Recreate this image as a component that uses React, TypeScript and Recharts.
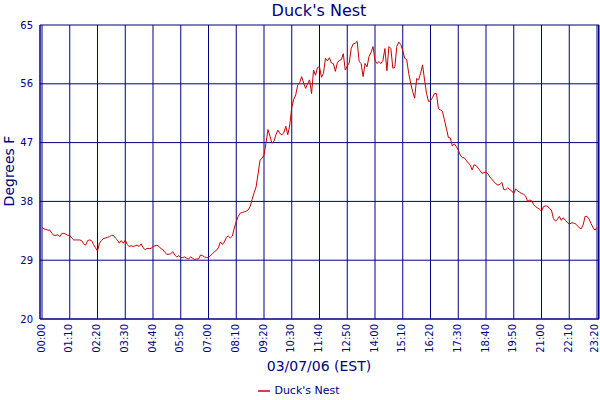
import { LineChart, Line, XAxis, YAxis, CartesianGrid, Legend } from 'recharts';

const NAVY = '#000080';
const RED = '#cc0000';

// x-axis tick labels (every 70 minutes)
const tickLabels = [
  '00:00', '01:10', '02:20', '03:30', '04:40', '05:50', '07:00', '08:10', '09:20', '10:30', '11:40',
  '12:50', '14:00', '15:10', '16:20', '17:30', '18:40', '19:50', '21:00', '22:10', '23:20',
];
const yTicks = [20, 29, 38, 47, 56, 65];

// readings every 5 minutes starting at 00:00
const stepMinutes = 5;
const temps = [
  34.0, 33.8, 33.7, 33.6, 33.6, 33.1, 32.8, 32.8, 32.9, 32.6,
  33.1, 33.1, 33.0, 32.8, 32.8, 32.4, 32.1, 32.1, 32.1, 32.1,
  32.0, 31.5, 31.3, 32.0, 32.1, 32.0, 31.4, 30.9, 30.4, 31.6,
  32.0, 32.3, 32.4, 32.5, 32.6, 32.8, 32.8, 32.4, 32.1, 31.6,
  32.0, 31.6, 32.1, 31.4, 31.1, 31.2, 31.1, 31.2, 31.3, 31.1,
  31.5, 30.9, 30.6, 30.8, 30.8, 30.8, 31.1, 31.2, 31.3, 31.1,
  30.8, 30.6, 30.2, 29.9, 29.9, 30.0, 30.3, 29.8, 29.5, 29.7,
  29.4, 29.4, 29.5, 29.3, 29.2, 29.5, 29.3, 29.1, 29.2, 29.2,
  29.8, 29.7, 29.5, 29.4, 29.4, 29.7, 30.0, 30.3, 30.5, 30.9,
  31.8, 31.4, 31.8, 32.5, 32.7, 32.4, 32.7, 33.9, 34.9, 35.7,
  36.2, 36.3, 36.4, 36.5, 36.7, 37.2, 38.3, 39.3, 40.2, 42.2,
  44.3, 44.6, 45.1, 46.9, 49.0, 48.0, 46.9, 47.2, 48.2, 48.9,
  48.4, 48.2, 48.5, 49.5, 48.2, 49.7, 52.4, 53.6, 54.3, 55.8,
  56.2, 57.1, 56.1, 55.3, 56.0, 56.6, 54.5, 58.1, 57.3, 58.5,
  58.6, 57.0, 57.6, 59.9, 59.5, 60.0, 59.2, 59.1, 57.9, 59.2,
  59.6, 59.7, 60.6, 58.1, 58.7, 59.2, 61.4, 62.1, 62.2, 62.5,
  59.4, 59.1, 57.1, 59.1, 58.6, 60.2, 60.8, 61.7, 59.6, 59.1,
  59.4, 59.1, 59.6, 61.4, 58.0, 61.7, 61.4, 58.4, 58.5, 61.7,
  62.4, 62.0, 61.1, 59.9, 59.7, 57.6, 56.1, 54.8, 53.8, 56.8,
  56.6, 57.6, 58.9, 56.6, 54.5, 53.3, 53.4, 53.9, 54.5, 54.5,
  52.2, 52.0, 51.8, 50.5, 49.2, 47.8, 47.7, 46.5, 46.8, 46.4,
  45.9, 45.1, 44.7, 44.7, 44.3, 43.9, 43.6, 42.8, 43.6, 43.5,
  43.1, 42.7, 42.3, 42.4, 42.5, 42.2, 41.7, 41.4, 41.0, 40.7,
  40.5, 40.6, 40.9, 39.8, 39.8, 40.1, 39.8, 39.6, 39.2, 39.9,
  39.6, 39.4, 39.2, 39.1, 38.8, 38.0, 38.2, 38.1, 37.5, 37.2,
  37.0, 36.8, 36.5, 37.2, 37.3, 37.3, 36.9, 36.7, 35.4, 35.0,
  35.2, 35.7, 35.1, 35.5, 35.1, 34.8, 34.5, 34.7, 34.7, 34.6,
  34.3, 34.0, 33.8, 34.4, 35.7, 35.7, 35.3, 34.6, 34.0, 33.6,
  34.0,
];

const toMinutes = (s: string) => {
  const [h, m] = s.split(':').map(Number);
  return h * 60 + m;
};
const pad = (n: number) => String(n).padStart(2, '0');
const fmtTime = (m: number) => `${pad(Math.floor(m / 60))}:${pad(m % 60)}`;

const xTicks = tickLabels.map(toMinutes);
const data = temps.map((t, i) => ({ minute: i * stepMinutes, temp: t }));

// rotated time label; the last one is nudged in so it stays inside the picture
const TimeTick = (props: any) => {
  const { x, y, payload, index } = props;
  const tx = x - 1 - (index === xTicks.length - 1 ? 2 : 0);
  return (
    <text
      x={tx}
      y={y}
      dy="0.36em"
      transform={`rotate(-90 ${tx} ${y})`}
      textAnchor="end"
      fontSize={10}
      fill={NAVY}
    >
      {fmtTime(payload.value)}
    </text>
  );
};

export default function App() {
  return (
    <div style={{ position: 'absolute', left: 0, top: 0, width: 600, height: 400, fontFamily: 'DejaVu Sans', background: '#fff' }}>
      <LineChart width={600} height={400} data={data} margin={{ top: 25, right: 1, left: 0, bottom: 31 }}>
        <CartesianGrid stroke={NAVY} strokeOpacity={1} />
        <XAxis
          dataKey="minute"
          type="number"
          domain={[xTicks[0], xTicks[xTicks.length - 1]]}
          ticks={xTicks}
          interval={0}
          padding={{ left: 2, right: 2 }}
          height={50}
          axisLine={{ stroke: NAVY }}
          tickLine={false}
          tickSize={0}
          tickMargin={5}
          tick={<TimeTick />}
        />
        <YAxis
          domain={[20, 65]}
          ticks={yTicks}
          interval={0}
          width={40}
          axisLine={{ stroke: NAVY }}
          tickLine={false}
          tickSize={0}
          tickMargin={7}
          tick={{ fontSize: 10, fill: NAVY }}
        />
        <Legend
          verticalAlign="middle"
          align="center"
          iconType="plainline"
          iconSize={12}
          formatter={(v) => <span style={{ color: NAVY }}>{v}</span>}
          wrapperStyle={{ top: 384, left: 4, width: 600, fontSize: 11 }}
        />
        <Line
          type="linear"
          dataKey="temp"
          name="Duck's Nest"
          stroke={RED}
          strokeWidth={1}
          dot={false}
          isAnimationActive={false}
        />
      </LineChart>
      <svg width={600} height={400} style={{ position: 'absolute', left: 0, top: 0, pointerEvents: 'none' }}>
        <line x1={598.5} y1={25} x2={598.5} y2={319} stroke={NAVY} />
        <text x={319} y={16} textAnchor="middle" fontSize={16} fill={NAVY}>Duck's Nest</text>
        <text x={319} y={370.5} textAnchor="middle" fontSize={14} fill={NAVY}>03/07/06 (EST)</text>
        <text x={14} y={171} textAnchor="middle" fontSize={14} fill={NAVY} transform="rotate(-90 14 171)">Degrees F</text>
      </svg>
    </div>
  );
}
